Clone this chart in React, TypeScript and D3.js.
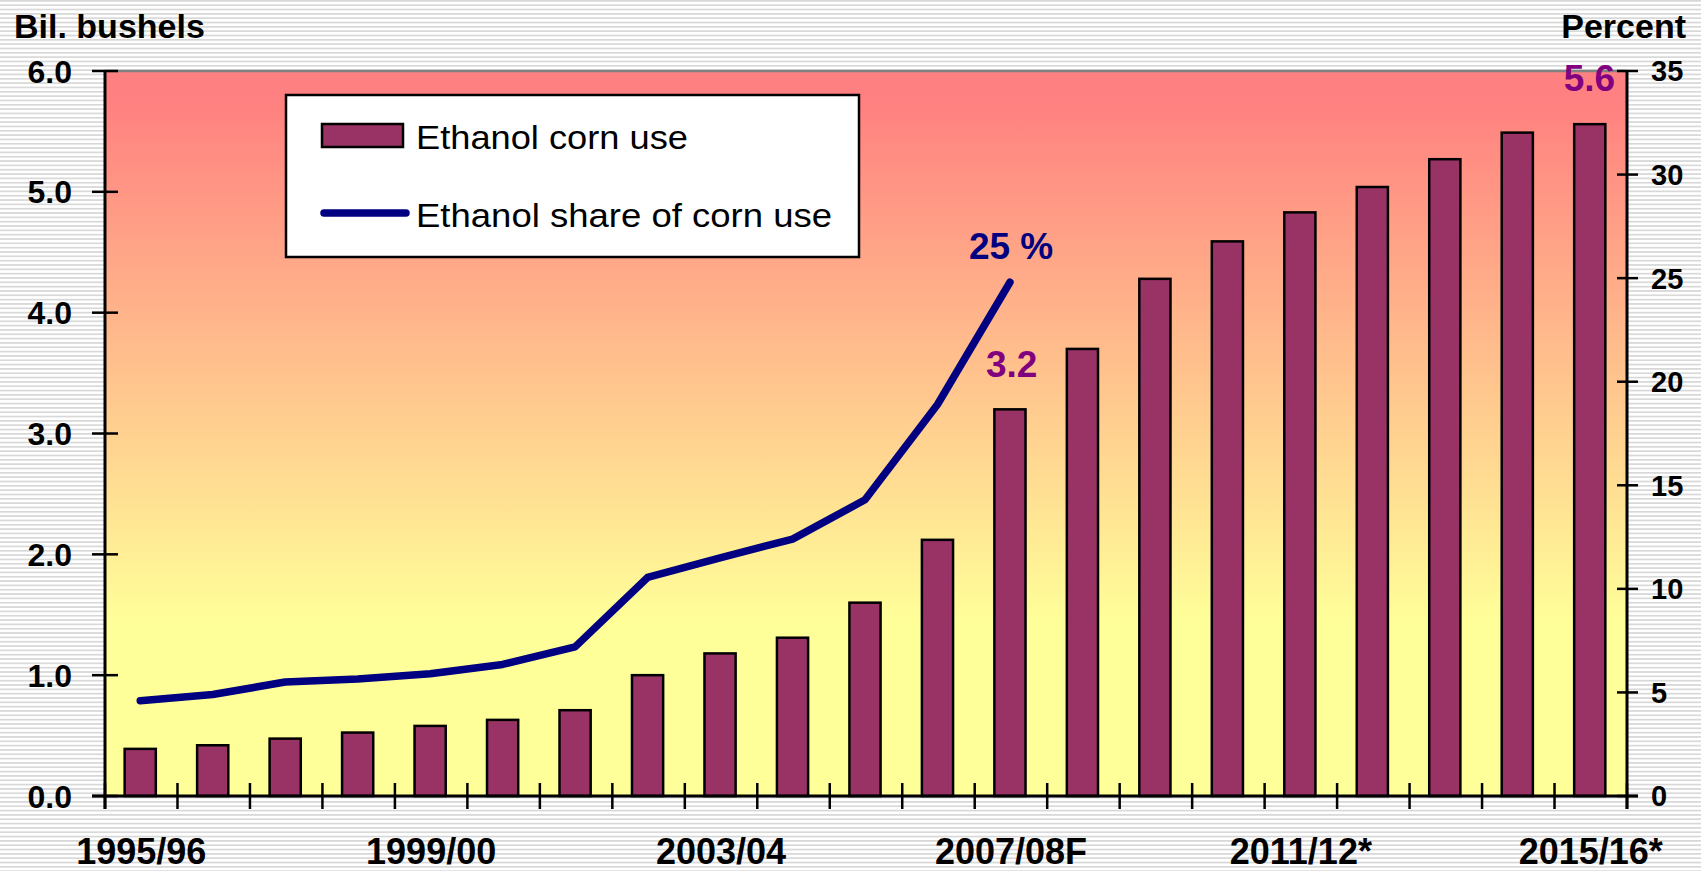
import React from "react";
import * as d3 from "d3";

const categories = [
  "1995/96", "1996/97", "1997/98", "1998/99", "1999/00", "2000/01", "2001/02",
  "2002/03", "2003/04", "2004/05", "2005/06", "2006/07", "2007/08F", "2008/09*",
  "2009/10*", "2010/11*", "2011/12*", "2012/13*", "2013/14*", "2014/15*", "2015/16*",
];
const shownLabels = ["1995/96", "1999/00", "2003/04", "2007/08F", "2011/12*", "2015/16*"];
const cornUse = [
  0.39, 0.42, 0.475, 0.525, 0.58, 0.63, 0.71, 1.0, 1.18, 1.31, 1.6, 2.12, 3.2,
  3.7, 4.28, 4.59, 4.83, 5.04, 5.27, 5.49, 5.56,
];
const sharePct = [4.6, 4.9, 5.5, 5.65, 5.9, 6.35, 7.2, 10.55, 11.5, 12.4, 14.3, 18.9, 24.8];
const leftTicks = [0, 1, 2, 3, 4, 5, 6];
const rightTicks = [0, 5, 10, 15, 20, 25, 30, 35];
const seriesNames = ["Ethanol corn use", "Ethanol share of corn use"];

const W = 1701, H = 871;
const L = 105, R = 1627, T = 71, B = 796;
const FONT = "'Liberation Sans', Arial, sans-serif";

export default function App() {
  const x = d3.scaleBand<string>().domain(categories).range([L, R]).padding(0);
  const yL = d3.scaleLinear().domain([0, 6]).range([B, T]);
  const yR = d3.scaleLinear().domain([0, 35]).range([B, T]);
  const bw = x.bandwidth() * 0.43;
  const cx = (c: string) => (x(c) as number) + x.bandwidth() / 2 - 1;

  const line = d3
    .line<number>()
    .x((_, i) => cx(categories[i]))
    .y((d) => yR(d));

  const boundaries = categories.map((c) => x(c) as number).concat([R]);
  const lastShare = sharePct.length - 1;
  const i32 = 12;
  const iLast = cornUse.length - 1;

  return (
    <svg
      width={W}
      height={H}
      style={{ position: "absolute", left: 0, top: 0, display: "block" }}
      fontFamily={FONT}
    >
      <defs>
        <pattern id="stripes" width={8} height={4.33} patternUnits="userSpaceOnUse">
          <rect width={8} height={4.33} fill="#ffffff" />
          <rect y={0} width={8} height={1.7} fill="#d8d8d8" />
        </pattern>
        <linearGradient id="bg" x1="0" y1="0" x2="0" y2="1">
          <stop offset="0" stopColor="#FF8080" />
          <stop offset="0.04" stopColor="#FF8080" />
          <stop offset="0.76" stopColor="#FFFF99" />
          <stop offset="1" stopColor="#FFFF99" />
        </linearGradient>
      </defs>
      <rect width={W} height={H} fill="url(#stripes)" />
      <rect x={L} y={T} width={R - L} height={B - T} fill="url(#bg)" />
      <line x1={L} x2={R} y1={T} y2={T} stroke="#808080" strokeWidth={2.5} />

      {/* bars */}
      {cornUse.map((v, i) => (
        <rect
          key={categories[i]}
          x={cx(categories[i]) - bw / 2}
          y={yL(v)}
          width={bw}
          height={yL(0) - yL(v)}
          fill="#993366"
          stroke="#000"
          strokeWidth={2.5}
        />
      ))}

      {/* line */}
      <path
        d={line(sharePct) as string}
        fill="none"
        stroke="#000080"
        strokeWidth={7.5}
        strokeLinejoin="round"
        strokeLinecap="round"
      />

      {/* axes */}
      <line x1={L} x2={L} y1={T} y2={B + 13} stroke="#000" strokeWidth={3} />
      <line x1={R} x2={R} y1={T} y2={B + 13} stroke="#000" strokeWidth={3} />
      <line x1={L - 13} x2={R + 11} y1={B} y2={B} stroke="#000" strokeWidth={3} />
      {leftTicks.map((t) => (
        <g key={"l" + t}>
          <line x1={L - 13} x2={L + 13} y1={yL(t)} y2={yL(t)} stroke="#000" strokeWidth={2.5} />
          <text x={72} y={yL(t)} dy="0.36em" textAnchor="end" fontSize={32} fontWeight="bold">
            {d3.format(".1f")(t)}
          </text>
        </g>
      ))}
      {rightTicks.map((t) => (
        <g key={"r" + t}>
          <line x1={R - 10} x2={R + 11} y1={yR(t)} y2={yR(t)} stroke="#000" strokeWidth={2.5} />
          <text x={1651} y={yR(t)} dy="0.36em" textAnchor="start" fontSize={29} fontWeight="bold">
            {t}
          </text>
        </g>
      ))}
      {boundaries.map((bx, i) => (
        <line key={"xt" + i} x1={bx} x2={bx} y1={B - 13} y2={B + 13} stroke="#000" strokeWidth={2.5} />
      ))}
      {categories.map((c) =>
        shownLabels.includes(c) ? (
          <text key={"xl" + c} x={cx(c) + 1} y={864} textAnchor="middle" fontSize={36} fontWeight="bold">
            {c}
          </text>
        ) : null
      )}

      {/* axis titles */}
      <text x={14} y={38} fontSize={34} fontWeight="bold">Bil. bushels</text>
      <text x={1686} y={38} fontSize={34} fontWeight="bold" textAnchor="end">Percent</text>

      {/* annotations */}
      <text
        x={cx(categories[lastShare]) - 41}
        y={yR(sharePct[lastShare]) - 23}
        fontSize={37}
        fontWeight="bold"
        fill="#000080"
      >
        {Math.round(sharePct[lastShare]) + " %"}
      </text>
      <text
        x={cx(categories[i32]) - 24}
        y={yL(cornUse[i32]) - 32}
        fontSize={37}
        fontWeight="bold"
        fill="#800080"
      >
        {d3.format(".1f")(cornUse[i32])}
      </text>
      <text
        x={cx(categories[iLast]) - 26}
        y={yL(cornUse[iLast]) - 33}
        fontSize={37}
        fontWeight="bold"
        fill="#800080"
      >
        {d3.format(".1f")(cornUse[iLast])}
      </text>

      {/* legend */}
      <rect x={286} y={95} width={573} height={162} fill="#fff" stroke="#000" strokeWidth={2.5} />
      <rect x={322} y={124} width={81} height={23} fill="#993366" stroke="#000" strokeWidth={2.5} />
      <line x1={324} x2={406} y1={213} y2={213} stroke="#000080" strokeWidth={7.5} strokeLinecap="round" />
      <text x={416} y={149} fontSize={33} textLength={272} lengthAdjust="spacingAndGlyphs">
        {seriesNames[0]}
      </text>
      <text x={416} y={227} fontSize={33} textLength={416} lengthAdjust="spacingAndGlyphs">
        {seriesNames[1]}
      </text>
    </svg>
  );
}
